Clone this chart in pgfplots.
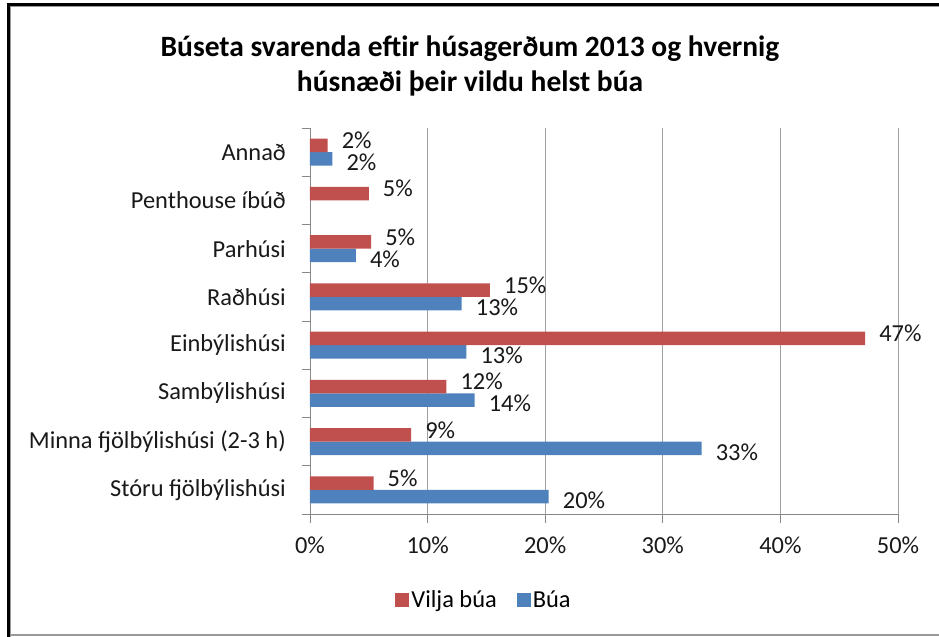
\documentclass[border=0pt]{standalone}
\usepackage{fontspec}
\setmainfont{Carlito}
\usepackage{pgfplots}
\usepackage{pgfplotstable}
\pgfplotsset{compat=1.18}
\definecolor{cred}{HTML}{C0504D}
\definecolor{cblue}{HTML}{4F81BD}
\definecolor{cgrid}{HTML}{A0A0A0}
\definecolor{caxis}{HTML}{888888}
\newcommand\lbl{\fontsize{24.5}{28}\selectfont}
\pgfplotstableread{
y x lab
0 20.3 20\%
1 33.3 33\%
2 14.0 14\%
3 13.3 13\%
4 12.9 13\%
5 3.9 4\%
7 1.9 2\%
}\bua
\pgfplotstableread{
y x lab
0 5.4 5\%
1 8.6 9\%
2 11.6 12\%
3 47.2 47\%
4 15.3 15\%
5 5.2 5\%
6 5.0 5\%
7 1.5 2\%
}\vilja
\begin{document}
\begin{tikzpicture}[x=1bp,y=1bp]
\path[use as bounding box] (-310,-123) rectangle (629,514);
% frame
\fill[black] (-303,-123) rectangle (-300,511);
\fill[black] (-303,508) rectangle (629,511);
\fill[black!40] (-300,-123) rectangle (-298.5,508);
\fill[black!40] (-300,506.5) rectangle (629,508);
\fill[black!40] (-300,-122.5) rectangle (629,-120.5);
\begin{axis}[
  at={(0,0)}, anchor=south west,
  scale only axis, width=588bp, height=386bp,
  xbar=0pt, bar width=13.5bp,
  xmin=0, xmax=50, ymin=-0.5, ymax=7.5,
  axis lines*=left,
  axis line style={caxis, line width=0.8bp},
  xtick={0,10,...,50},
  xticklabels={0\%,10\%,20\%,30\%,40\%,50\%},
  ytick={0,...,7},
  yticklabels={Stóru fjölbýlishúsi,Minna fjölbýlishúsi (2-3 h),Sambýlishúsi,Einbýlishúsi,Raðhúsi,Parhúsi,Penthouse íbúð,Annað},
  minor ytick={-0.5,0.5,...,7.5},
  tick align=outside,
  major tick length=9bp, minor tick length=8bp,
  major y tick style={draw=none},
  minor y tick style={caxis, line width=0.8bp},
  major x tick style={caxis, line width=0.8bp},
  xmajorgrids, major x grid style={cgrid, line width=0.9bp},
  ticklabel style={font=\lbl, text=black!90},
  yticklabel style={inner sep=0pt, xshift=-15bp},
  xticklabel style={inner sep=0pt, yshift=-14bp},
  clip=false,
  point meta=explicit symbolic,
  nodes near coords,
  nodes near coords style={font=\lbl, text=black!90, anchor=west, inner sep=0pt, xshift=14bp},
  reverse legend,
  legend columns=2,
  legend style={draw=none, fill=none, at={(0.296,-0.2228)}, anchor=center, font=\lbl,
    nodes={inner sep=2bp}, /tikz/every even column/.append style={column sep=18bp}},
  legend image code/.code={\fill[#1] (0bp,-7bp) rectangle (14bp,7bp);},
]
\addplot[fill=cblue, draw=none, nodes near coords style={yshift=-3.5bp}] table[x=x, y=y, meta=lab] {\bua};
\addlegendentry{Búa}
\addplot[fill=cred, draw=none, nodes near coords style={yshift=5bp}] table[x=x, y=y, meta=lab] {\vilja};
\addlegendentry{Vilja búa}
\end{axis}
\node[font=\fontsize{29.6}{35}\selectfont\bfseries, align=center, text=black] at (160,448) {Búseta svarenda eftir húsagerðum 2013 og hvernig\\húsnæði þeir vildu helst búa};
\end{tikzpicture}
\end{document}
